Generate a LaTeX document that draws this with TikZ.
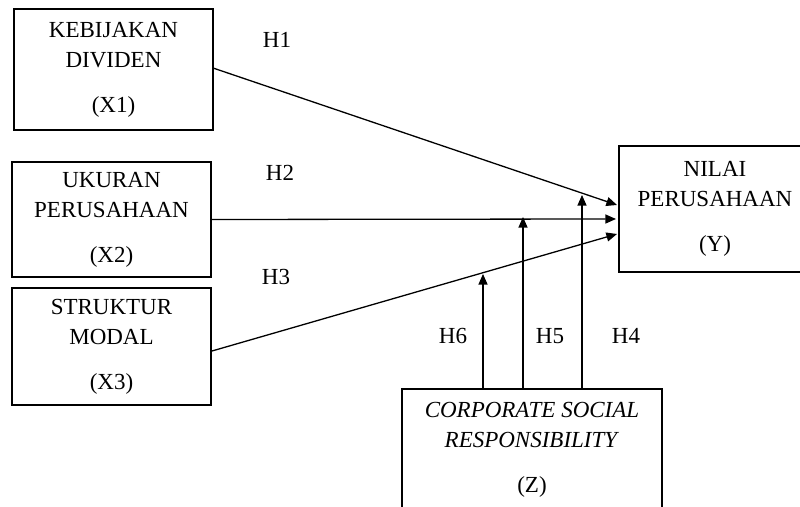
\documentclass[tikz,border=0pt]{standalone}
\usepackage{fontspec}
\setmainfont{Liberation Serif}
\usetikzlibrary{arrows.meta,calc}
\begin{document}
\begin{tikzpicture}[x=0.5pt,y=-0.5pt,
  box/.style={draw, line width=0.65pt, align=center, inner sep=0pt,
    font=\fontsize{11.5}{15}\selectfont},
  lbl/.style={inner sep=0pt, font=\fontsize{11.5}{15}\selectfont},
  conn/.style={line width=0.65pt, -{Triangle[length=5.3pt,width=4.5pt]}}]
\useasboundingbox (0,0) rectangle (800,507);
\clip (0,0) rectangle (800,507);
% boxes
\node[box, minimum width=99.5pt, minimum height=60.5pt] (x1) at (113.5,69.5)
  {\rule{0pt}{3pt}KEBIJAKAN\\DIVIDEN\\[7.5pt](X1)};
\node[box, minimum width=99.5pt, minimum height=57.5pt] (x2) at (111.5,219.5)
  {UKURAN\\PERUSAHAAN\\[7.5pt](X2)};
\node[box, minimum width=99.5pt, minimum height=58.5pt] (x3) at (111.5,346.5)
  {STRUKTUR\\MODAL\\[7.5pt](X3)};
\node[box, minimum width=96pt, minimum height=63pt] (y) at (715,209)
  {NILAI\\PERUSAHAAN\\[7.5pt](Y)};
\node[box, minimum width=130pt, minimum height=61pt] (z) at (532,450)
  {\textit{CORPORATE SOCIAL}\\\textit{RESPONSIBILITY}\\[7.5pt](Z)};
% connector end points
\coordinate (s1) at (213,68);
\coordinate (s3) at (212,351);
\coordinate (t1) at (617,205);
\coordinate (t2) at (616,219);
\coordinate (t3) at (617,234);
\coordinate (m4) at (582,195);
\coordinate (m5) at (523,217);
\coordinate (m6) at (483,274);
% connectors
\draw[conn] (s1) -- (t1);
\draw[conn] (x2.east) -- (t2);
\draw[conn] (s3) -- (t3);
\draw[conn] (z.north -| m4) -- (m4);
\draw[conn] (z.north -| m5) -- (m5);
\draw[conn] (z.north -| m6) -- (m6);
% labels
\node[lbl] (h1) at (277,40) {H1};
\node[lbl] (h2) at (280,173) {H2};
\node[lbl] (h3) at (276,277) {H3};
\node[lbl] (h4) at (626,336) {H4};
\node[lbl] (h5) at (550,336) {H5};
\node[lbl] (h6) at (453,336) {H6};
\end{tikzpicture}
\end{document}
